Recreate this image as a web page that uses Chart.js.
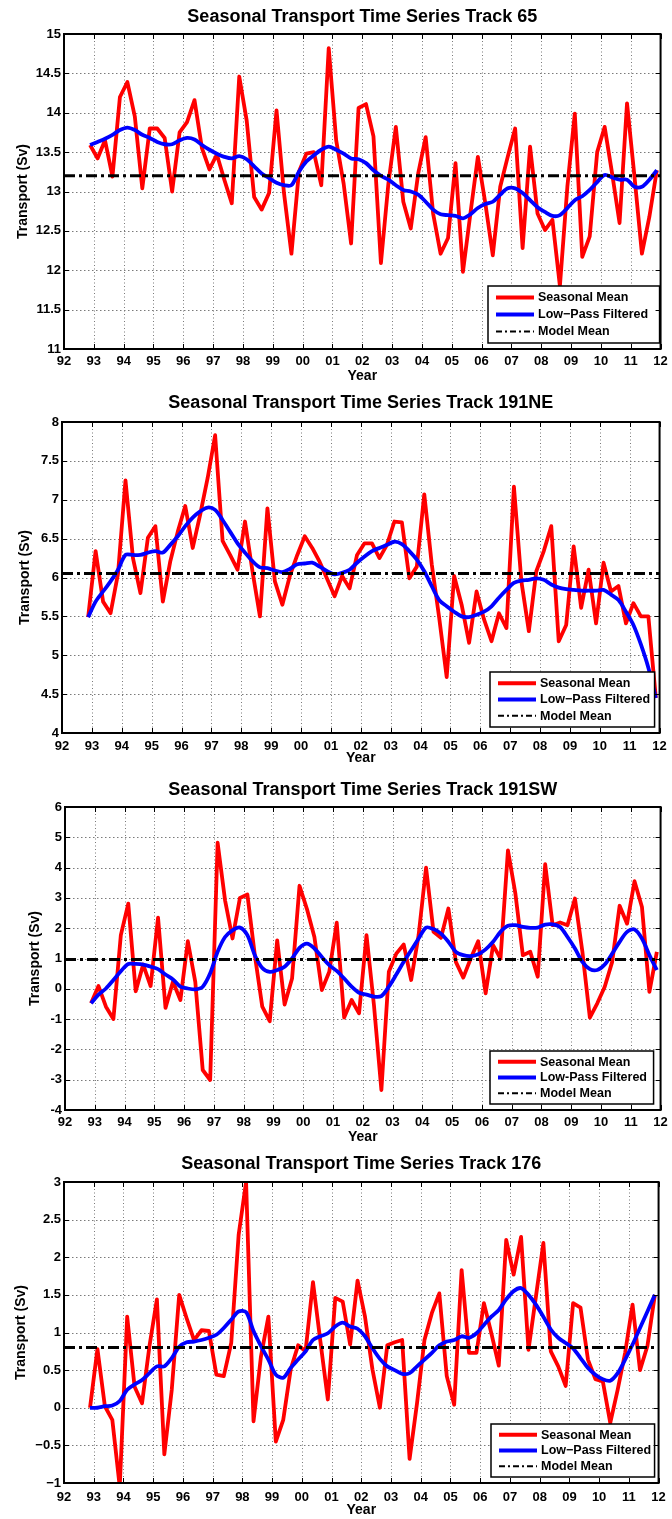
<!DOCTYPE html>
<html>
<head>
<meta charset="utf-8">
<title>Seasonal Transport Time Series</title>
<script src="https://cdn.jsdelivr.net/npm/chart.js@4.4.0/dist/chart.umd.min.js"></script>
<style>
  body { margin: 0; background: #fff; }
  #wrap { position: relative; width: 672px; height: 1519px; overflow: hidden; }
  #wrap canvas { position: absolute; left: 0; }
</style>
</head>
<body>
<div id="wrap">
  <canvas id="c65"></canvas>
  <canvas id="c191ne"></canvas>
  <canvas id="c191sw"></canvas>
  <canvas id="c176"></canvas>
</div>
<script>
// ---------- data ----------
// seasonal sample times, years since 1900
const seasonTimes = [92.875,
  93.125, 93.375, 93.625, 93.875, 94.125, 94.375, 94.625, 94.875,
  95.125, 95.375, 95.625, 95.875, 96.125, 96.375, 96.625, 96.875,
  97.125, 97.375, 97.625, 97.875, 98.125, 98.375, 98.625, 98.875,
  99.125, 99.375, 99.625, 99.875, 100.125, 100.375, 100.625, 100.875,
  101.125, 101.375, 101.625, 101.875, 102.125, 102.375, 102.625, 102.875,
  103.125, 103.375, 103.625, 103.875, 104.125, 104.375, 104.625, 104.875,
  105.125, 105.375, 105.625, 105.875, 106.125, 106.375, 106.625, 106.875,
  107.125, 107.375, 107.625, 107.875, 108.125, 108.375, 108.625, 108.875,
  109.125, 109.375, 109.625, 109.875, 110.125, 110.375, 110.625, 110.875,
  111.125, 111.375, 111.625, 111.875];

const yearTicks = [92, 93, 94, 95, 96, 97, 98, 99, 100, 101, 102, 103, 104, 105, 106, 107, 108, 109, 110, 111, 112];
const yearTickLabels = ['92', '93', '94', '95', '96', '97', '98', '99', '00', '01', '02',
  '03', '04', '05', '06', '07', '08', '09', '10', '11', '12'];

// Track 65
const track65Seasonal = [13.59, 13.42, 13.65, 13.19, 14.2, 14.39, 13.95, 13.04, 13.8, 13.8, 13.68, 13.0,
  13.75, 13.88, 14.16, 13.55, 13.28, 13.47, 13.15, 12.85, 14.46, 13.9, 12.93, 12.77, 12.98, 14.03,
  12.98, 12.21, 13.25, 13.48, 13.5, 13.08, 14.82,
  13.65, 13.1, 12.34, 14.06, 14.11, 13.7, 12.09, 13.1, 13.82, 12.87, 12.53, 13.23, 13.69, 12.72,
  12.21, 12.41, 13.36, 11.98, 12.72, 13.44, 12.85, 12.19, 13.06, 13.44, 13.8, 12.28, 13.57, 12.72,
  12.51, 12.64, 11.8, 13.06, 13.99, 12.17, 12.43, 13.5, 13.82, 13.23, 12.6, 14.12, 13.19, 12.21,
  12.68, 13.27];
const track65LowPass = [13.59, 13.63, 13.67, 13.72, 13.78, 13.81, 13.78, 13.72, 13.68, 13.63, 13.6, 13.6,
  13.65, 13.68, 13.66, 13.59, 13.53, 13.48, 13.44, 13.42, 13.45, 13.41, 13.32, 13.23, 13.17, 13.11,
  13.08, 13.08, 13.25, 13.38, 13.46, 13.53, 13.57,
  13.53, 13.48, 13.42, 13.41, 13.36, 13.27, 13.2, 13.15, 13.08, 13.02, 13.0, 12.96, 12.87, 12.77,
  12.71, 12.7, 12.69, 12.66, 12.71, 12.79, 12.84, 12.87, 12.96, 13.04, 13.04, 12.98, 12.89, 12.8,
  12.74, 12.69, 12.7, 12.79, 12.89, 12.94, 13.02, 13.12, 13.21, 13.18, 13.15, 13.15, 13.06, 13.06,
  13.15, 13.27];
const track65Mean = 13.2;
const track65Ticks = [11, 11.5, 12, 12.5, 13, 13.5, 14, 14.5, 15];

// Track 191NE
const track191NESeasonal = [5.49, 6.34, 5.69, 5.54, 6.05, 7.25, 6.25, 5.8, 6.51, 6.66, 5.69, 6.21, 6.59,
  6.92, 6.38, 6.81, 7.28, 7.83, 6.47, 6.29, 6.1, 6.72, 6.08, 5.5, 6.89, 5.95, 5.65, 6.02, 6.29, 6.53,
  6.38, 6.2, 5.98,
  5.76, 6.02, 5.86, 6.29, 6.44, 6.44, 6.25, 6.42, 6.72, 6.71, 5.99, 6.14, 7.07, 6.17, 5.48, 4.72,
  6.02, 5.65, 5.16, 5.82, 5.46, 5.18, 5.54, 5.35, 7.17, 5.95, 5.31, 6.08, 6.34, 6.66, 5.18, 5.39,
  6.4, 5.61, 6.1, 5.41, 6.19, 5.82, 5.89, 5.41, 5.67, 5.5, 5.5, 4.45];
const track191NELowPass = [5.49, 5.69, 5.82, 5.95, 6.1, 6.29, 6.29, 6.29, 6.32, 6.34, 6.32, 6.42, 6.53,
  6.66, 6.77, 6.85, 6.9, 6.87, 6.74, 6.59, 6.44, 6.32, 6.21, 6.13, 6.12, 6.09, 6.07, 6.11, 6.17, 6.18,
  6.19, 6.14, 6.08,
  6.04, 6.06, 6.1, 6.19, 6.27, 6.34, 6.38, 6.42, 6.46, 6.43, 6.34, 6.23, 6.08, 5.89, 5.71, 5.63,
  5.56, 5.5, 5.49, 5.52, 5.56, 5.63, 5.74, 5.84, 5.93, 5.96, 5.97, 5.99, 5.97, 5.91, 5.87, 5.85,
  5.84, 5.83, 5.83, 5.83, 5.84, 5.78, 5.71, 5.56, 5.39, 5.14, 4.84, 4.45];
const track191NEMean = 6.05;
const track191NETicks = [4, 4.5, 5, 5.5, 6, 6.5, 7, 7.5, 8];

// Track 191SW
const track191SWSeasonal = [-0.48, 0.09, -0.59, -1.0, 1.77, 2.81, -0.08, 0.8, 0.09, 2.35, -0.63, 0.23,
  -0.37, 1.57, 0.23, -2.68, -3.01, 4.82, 2.92, 1.66, 3.0, 3.11, 1.11, -0.59, -1.07, 1.6, -0.52, 0.34,
  3.4, 2.63, 1.71, -0.04, 0.56,
  2.18, -0.95, -0.37, -0.81, 1.77, -0.54, -3.34, 0.56, 1.16, 1.46, 0.29, 1.77, 4.0, 1.88, 1.68, 2.65,
  0.89, 0.37, 1.0, 1.57, -0.15, 1.44, 1.0, 4.57, 3.14, 1.11, 1.22, 0.4, 4.11, 2.1, 2.19, 2.1,
  2.98, 1.22, -0.95, -0.48, 0.07, 0.89, 2.74, 2.15, 3.55, 2.7, -0.1, 1.22];
const track191SWLowPass = [-0.48, -0.19, 0.01, 0.29, 0.58, 0.82, 0.82, 0.8, 0.73, 0.65, 0.47, 0.31, 0.07,
  0.01, -0.02, 0.07, 0.51, 1.22, 1.71, 1.93, 2.02, 1.77, 1.11, 0.69, 0.56, 0.62, 0.73, 1.0, 1.35, 1.49,
  1.33, 1.05, 0.78,
  0.59, 0.34, 0.07, -0.13, -0.19, -0.26, -0.24, 0.07, 0.47, 0.89, 1.27, 1.66, 2.02, 1.97, 1.82, 1.55,
  1.22, 1.11, 1.08, 1.14, 1.3, 1.55, 1.88, 2.08, 2.1, 2.04, 2.01, 2.02, 2.12, 2.13, 2.04, 1.71,
  1.33, 0.89, 0.65, 0.62, 0.8, 1.16, 1.55, 1.88, 1.96, 1.66, 1.11, 0.62];
const track191SWMean = 0.97;
const track191SWTicks = [-4, -3, -2, -1, 0, 1, 2, 3, 4, 5, 6];

// Track 176
const track176Seasonal = [0.0, 0.78, 0.02, -0.16, -1.05, 1.21, 0.28, 0.06, 0.82, 1.44, -0.62, 0.24, 1.5,
  1.19, 0.9, 1.03, 1.02, 0.44, 0.42, 0.86, 2.3, 3.0, -0.18, 0.68, 1.21, -0.45, -0.16, 0.51, 0.83, 0.75,
  1.67, 0.88, 0.11,
  1.46, 1.41, 0.84, 1.69, 1.21, 0.51, 0.0, 0.83, 0.87, 0.9, -0.68, 0.06, 0.9, 1.26, 1.52, 0.42,
  0.04, 1.83, 0.73, 0.73, 1.39, 0.99, 0.56, 2.23, 1.77, 2.27, 0.77, 1.48, 2.19, 0.75, 0.55, 0.29,
  1.39, 1.33, 0.64, 0.38, 0.35, -0.2, 0.24, 0.73, 1.37, 0.5, 0.82, 1.5];
const track176LowPass = [0.0, 0.0, 0.02, 0.03, 0.09, 0.24, 0.31, 0.37, 0.46, 0.55, 0.55, 0.66, 0.81, 0.87,
  0.88, 0.9, 0.93, 0.97, 1.06, 1.17, 1.28, 1.27, 1.02, 0.82, 0.64, 0.44, 0.4, 0.53, 0.64, 0.75, 0.9,
  0.95, 0.99,
  1.08, 1.13, 1.08, 1.05, 0.95, 0.79, 0.65, 0.55, 0.5, 0.45, 0.46, 0.55, 0.64, 0.73, 0.83, 0.88,
  0.9, 0.95, 0.93, 0.99, 1.1, 1.21, 1.3, 1.44, 1.55, 1.59, 1.5, 1.37, 1.21, 1.04, 0.93, 0.86,
  0.79, 0.66, 0.53, 0.44, 0.38, 0.36, 0.46, 0.64, 0.84, 1.06, 1.28, 1.5];
const track176Mean = 0.8;
const track176Ticks = [-1, -0.5, 0, 0.5, 1, 1.5, 2, 2.5, 3];

// ---------- panel layout (page pixels) ----------
const FONT = "'Liberation Sans', Arial, Helvetica, sans-serif";
const MINUS = '\u2212';

const panels = [
  { id: 'c65', top: 0, height: 385, name: '65', seasonal: track65Seasonal, lowPass: track65LowPass,
    mean: track65Mean, ticks: track65Ticks, minus: MINUS, lowPassLabel: 'Low' + MINUS + 'Pass Filtered',
    titleY: 17, plotTop: 34, plotBottom: 349, tickY: 361, yearY: 376, yTitleX: 23.5, left: 64, right: 663,
    legend: { left: 488, rightGap: 1, bottomGap: 6, height: 57 } },
  { id: 'c191ne', top: 385, height: 383, name: '191NE', seasonal: track191NESeasonal, lowPass: track191NELowPass,
    mean: track191NEMean, ticks: track191NETicks, minus: MINUS, lowPassLabel: 'Low' + MINUS + 'Pass Filtered',
    titleY: 18, plotTop: 37, plotBottom: 348, tickY: 361, yearY: 373, yTitleX: 25, left: 62, right: 663,
    legend: { left: 490, rightGap: 5, bottomGap: 6, height: 55 } },
  { id: 'c191sw', top: 768, height: 378, name: '191SW', seasonal: track191SWSeasonal, lowPass: track191SWLowPass,
    mean: track191SWMean, ticks: track191SWTicks, minus: '-', lowPassLabel: 'Low-Pass Filtered',
    titleY: 22, plotTop: 39, plotBottom: 342, tickY: 354, yearY: 370, yTitleX: 35, left: 65, right: 663,
    legend: { left: 490, rightGap: 7, bottomGap: 6, height: 53 } },
  { id: 'c176', top: 1146, height: 373, name: '176', seasonal: track176Seasonal, lowPass: track176LowPass,
    mean: track176Mean, ticks: track176Ticks, minus: MINUS, lowPassLabel: 'Low' + MINUS + 'Pass Filtered',
    titleY: 18, plotTop: 36, plotBottom: 337, tickY: 351, yearY: 365, yTitleX: 21, left: 64, right: 664,
    legend: { left: 491, rightGap: 4, bottomGap: 6, height: 53 } }
];

// ---------- frame, dotted grid, inner ticks, legend box ----------
const plotFrame = {
  id: 'plotFrame',
  beforeDatasetsDraw(chart) {
    const { ctx, chartArea: a, scales: { x, y } } = chart;
    ctx.save();
    ctx.strokeStyle = '#7a7a7a';
    ctx.lineWidth = 1;
    ctx.setLineDash([1, 2.5]);
    x.ticks.forEach(t => {
      const px = Math.round(x.getPixelForValue(t.value)) + 0.5;
      if (px <= a.left + 2 || px >= a.right - 2) return;
      ctx.beginPath(); ctx.moveTo(px, a.top); ctx.lineTo(px, a.bottom); ctx.stroke();
    });
    ctx.setLineDash([1.5, 2.5]);
    y.ticks.forEach(t => {
      const py = Math.round(y.getPixelForValue(t.value)) + 0.5;
      if (py <= a.top + 2 || py >= a.bottom - 2) return;
      ctx.beginPath(); ctx.moveTo(a.left, py); ctx.lineTo(a.right, py); ctx.stroke();
    });
    ctx.restore();
  },
  afterDatasetsDraw(chart, args, opts) {
    const { ctx, chartArea: a, scales: { x, y } } = chart;
    ctx.save();
    // legend box
    const lg = opts.legend;
    const bx = lg.left, bw = a.right - lg.rightGap - lg.left;
    const by = a.bottom - lg.bottomGap - lg.height, bh = lg.height;
    ctx.fillStyle = '#fff';
    ctx.fillRect(bx, by, bw, bh);
    ctx.strokeStyle = '#000';
    ctx.lineWidth = 1.5;
    ctx.strokeRect(bx, by, bw, bh);
    const rowH = (bh - 6) / 3;
    ctx.font = 'bold 12.5px ' + FONT;
    ctx.textBaseline = 'middle';
    ctx.textAlign = 'left';
    chart.data.datasets.forEach((ds, i) => {
      const ry = by + 3 + rowH * (i + 0.5);
      ctx.beginPath();
      ctx.strokeStyle = ds.borderColor;
      if (ds.borderDash) { ctx.setLineDash([6, 3, 2, 3]); ctx.lineWidth = 2; }
      else { ctx.setLineDash([]); ctx.lineWidth = 4; }
      ctx.moveTo(bx + 8, ry); ctx.lineTo(bx + 46, ry); ctx.stroke();
      ctx.fillStyle = '#000';
      ctx.fillText(ds.label, bx + 50, ry + 0.5);
    });
    ctx.setLineDash([]);
    // inner tick marks
    ctx.strokeStyle = '#000';
    ctx.lineWidth = 1;
    const tl = 5;
    x.ticks.forEach(t => {
      const px = Math.round(x.getPixelForValue(t.value)) + 0.5;
      ctx.beginPath();
      ctx.moveTo(px, a.top); ctx.lineTo(px, a.top + tl);
      ctx.moveTo(px, a.bottom); ctx.lineTo(px, a.bottom - tl);
      ctx.stroke();
    });
    y.ticks.forEach(t => {
      const py = Math.round(y.getPixelForValue(t.value)) + 0.5;
      ctx.beginPath();
      ctx.moveTo(a.left, py); ctx.lineTo(a.left + tl, py);
      ctx.moveTo(a.right, py); ctx.lineTo(a.right - tl, py);
      ctx.stroke();
    });
    // axes box
    ctx.lineWidth = 2;
    ctx.strokeRect(a.left, a.top, a.right - a.left, a.bottom - a.top);
    ctx.restore();
  }
};

// ---------- build the four charts ----------
function toPoints(values) {
  return seasonTimes.map((t, i) => ({ x: t, y: values[i] }));
}

function drawPanel(p) {
  const canvas = document.getElementById(p.id);
  canvas.width = 672;
  canvas.height = p.height;
  canvas.style.top = p.top + 'px';
  canvas.style.width = '672px';
  canvas.style.height = p.height + 'px';

  const xMin = yearTicks[0], xMax = yearTicks[yearTicks.length - 1];
  const yMin = p.ticks[0], yMax = p.ticks[p.ticks.length - 1];

  new Chart(canvas.getContext('2d'), {
    type: 'line',
    data: {
      datasets: [
        { label: 'Seasonal Mean', data: toPoints(p.seasonal), borderColor: '#ff0000', borderWidth: 3.8,
          pointRadius: 0, tension: 0, borderJoinStyle: 'round', clip: 0, order: 3 },
        { label: p.lowPassLabel, data: toPoints(p.lowPass), borderColor: '#0000ff', borderWidth: 3.8,
          pointRadius: 0, tension: 0.3, borderJoinStyle: 'round', clip: 0, order: 2 },
        { label: 'Model Mean', data: [{ x: xMin, y: p.mean }, { x: xMax, y: p.mean }], borderColor: '#000',
          borderWidth: 3, borderDash: [11, 4, 3, 4], pointRadius: 0, order: 1 }
      ]
    },
    options: {
      responsive: false,
      animation: false,
      devicePixelRatio: 1,
      layout: { padding: { left: 0, right: 672 - p.right, top: 0, bottom: 0 } },
      plugins: {
        legend: { display: false },
        tooltip: { enabled: false },
        title: {
          display: true,
          fullSize: false,
          text: 'Seasonal Transport Time Series Track ' + p.name,
          color: '#000',
          font: { family: FONT, size: 18, weight: 'bold' },
          padding: { top: p.titleY - 10.8, bottom: p.plotTop - p.titleY - 10.8 }
        },
        plotFrame: { legend: p.legend }
      },
      scales: {
        x: {
          type: 'linear',
          min: xMin, max: xMax,
          grid: { display: false, drawTicks: false },
          border: { display: false },
          afterBuildTicks: s => { s.ticks = yearTicks.map(v => ({ value: v })); },
          afterFit: s => { s.height = p.height - p.plotBottom; },
          ticks: {
            autoSkip: false, maxRotation: 0, padding: p.tickY - 7.8 - p.plotBottom, color: '#000',
            font: { family: FONT, size: 13, weight: 'bold' },
            callback: (v, i) => yearTickLabels[i]
          },
          title: {
            display: true, text: 'Year', color: '#000',
            font: { family: FONT, size: 14, weight: 'bold' },
            padding: { top: 0, bottom: Math.max(0, p.height - p.yearY - 8.4) }
          }
        },
        y: {
          type: 'linear',
          min: yMin, max: yMax,
          grid: { display: false, drawTicks: false },
          border: { display: false },
          afterBuildTicks: s => { s.ticks = p.ticks.map(v => ({ value: v })); },
          afterFit: s => { s.width = p.left; },
          ticks: {
            autoSkip: false, padding: 3, color: '#000',
            font: { family: FONT, size: 13, weight: 'bold' },
            callback: v => (v < 0 ? p.minus + String(Math.abs(v)) : String(v))
          },
          title: {
            display: true, text: 'Transport (Sv)', color: '#000',
            font: { family: FONT, size: 14, weight: 'bold' },
            padding: { top: p.yTitleX - 8.4, bottom: 0 }
          }
        }
      }
    },
    plugins: [plotFrame]
  });
}

panels.forEach(drawPanel);
</script>
</body>
</html>
